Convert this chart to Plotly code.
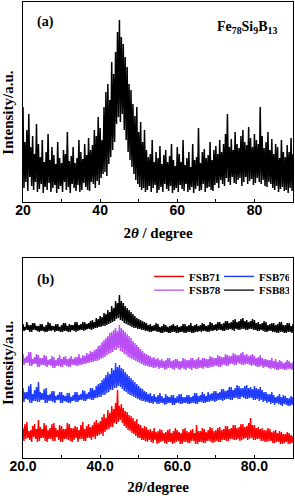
import numpy as np
import plotly.graph_objects as go

# ---------------- data ----------------
# panel (a): Fe78Si9B13, 2theta from 20 to 90 in 0.25 deg steps
two_theta_a_start, two_theta_a_step = 20.0, 0.25
intensity_a = [
    95, 14, 60, 20, 72, 11, 88, 25, 55, 16, 66, 12, 48, 20, 78, 10,
    58, 13, 45, 18, 62, 9, 40, 15, 50, 12, 68, 19, 42, 10, 55, 14,
    47, 17, 38, 9, 60, 13, 44, 16, 39, 10, 52, 20, 48, 12, 70, 15,
    41, 9, 46, 18, 55, 14, 39, 11, 44, 17, 62, 10, 50, 12, 43, 19,
    58, 15, 47, 12, 64, 11, 52, 20, 57, 18, 72, 14, 66, 21, 85, 17,
    74, 24, 62, 28, 95, 30, 110, 26, 118, 38, 102, 45, 140, 52, 128, 60,
    150, 78, 170, 85, 182, 80, 165, 88, 158, 72, 145, 62, 135, 50, 118, 42,
    112, 35, 98, 28, 86, 22, 95, 18, 70, 15, 80, 12, 60, 14, 72, 10,
    52, 12, 45, 16, 48, 10, 62, 14, 40, 17, 50, 9, 44, 12, 56, 15,
    38, 10, 47, 18, 52, 13, 40, 11, 46, 16, 58, 9, 42, 12, 36, 14,
    55, 10, 48, 17, 40, 13, 62, 11, 37, 18, 44, 10, 50, 12, 35, 15,
    58, 9, 42, 13, 45, 16, 74, 11, 39, 12, 50, 18, 53, 10, 44, 14,
    47, 15, 60, 12, 42, 11, 52, 17, 56, 19, 48, 14, 62, 22, 50, 18,
    58, 16, 68, 24, 88, 20, 55, 17, 63, 25, 52, 19, 70, 18, 58, 22,
    54, 24, 66, 16, 72, 20, 60, 25, 57, 18, 75, 21, 64, 23, 55, 17,
    68, 19, 62, 24, 58, 20, 95, 18, 66, 22, 54, 16, 60, 15, 70, 20,
    52, 18, 63, 14, 48, 12, 58, 16, 55, 10, 44, 13, 62, 15, 50, 11,
    45, 12, 57, 9, 50, 14, 64, 11, 48,
]

# panel (b): four samples, 2theta from 20 to 90 in 0.25 deg steps
two_theta_b_start, two_theta_b_step = 20.0, 0.25
series_names = ["FSB71", "FSB76", "FSB78", "FSB83"]
fsb71 = [
    30, 17, 34, 19, 36, 20, 27, 18, 28, 16, 32, 21, 34, 19, 29, 16, 38, 17, 31, 20,
    29, 20, 35, 17, 33, 16, 28, 19, 30, 19, 34, 17, 35, 17, 30, 21, 28, 18, 33, 16,
    32, 16, 29, 19, 29, 19, 35, 18, 34, 17, 30, 16, 30, 18, 32, 20, 31, 16, 28, 19,
    33, 19, 36, 17, 29, 17, 32, 20, 34, 20, 31, 18, 33, 21, 36, 19, 38, 22, 35, 23,
    37, 24, 41, 22, 44, 26, 40, 28, 48, 29, 45, 31, 52, 31, 49, 35, 55, 34, 68, 36,
    52, 38, 54, 35, 50, 32, 47, 30, 46, 28, 43, 27, 42, 25, 40, 24, 37, 22, 39, 20,
    34, 20, 33, 18, 30, 18, 32, 17, 31, 16, 28, 18, 29, 16, 27, 15, 30, 18, 26, 14,
    27, 15, 29, 16, 28, 17, 25, 15, 26, 14, 28, 16, 29, 16, 25, 14, 27, 15, 30, 16,
    28, 17, 26, 14, 25, 14, 29, 16, 30, 16, 27, 15, 26, 15, 28, 17, 29, 17, 25, 14,
    33, 14, 27, 16, 27, 16, 30, 15, 29, 15, 26, 17, 28, 17, 31, 16, 30, 15, 27, 16,
    28, 17, 30, 16, 31, 16, 28, 18, 29, 18, 32, 17, 32, 17, 29, 19, 30, 19, 33, 18,
    33, 18, 30, 19, 31, 17, 34, 18, 34, 19, 31, 20, 32, 18, 35, 19, 40, 20, 33, 18,
    33, 18, 30, 19, 31, 19, 29, 17, 30, 17, 28, 16, 28, 16, 30, 17, 29, 17, 26, 15,
    27, 15, 28, 16, 25, 16, 27, 14, 26, 14, 24, 15, 24, 16, 26, 14, 25, 14, 23, 15,
    22,
]
fsb76 = [
    70, 56, 66, 59, 66, 58, 72, 55, 74, 55, 64, 57, 68, 57, 71, 56, 76, 56, 66, 58,
    65, 58, 69, 55, 70, 55, 63, 57, 64, 57, 67, 56, 67, 55, 62, 58, 63, 58, 66, 55,
    66, 55, 63, 57, 62, 56, 65, 55, 65, 55, 61, 57, 63, 57, 66, 56, 66, 56, 63, 58,
    64, 58, 68, 57, 67, 57, 64, 59, 66, 59, 70, 58, 70, 58, 68, 60, 72, 60, 74, 61,
    75, 61, 78, 63, 80, 63, 83, 65, 86, 66, 84, 68, 90, 68, 88, 70, 95, 70, 91, 72,
    93, 71, 90, 69, 89, 67, 86, 66, 84, 64, 82, 63, 80, 62, 78, 61, 76, 60, 74, 59,
    72, 58, 70, 57, 69, 57, 67, 56, 66, 56, 64, 55, 65, 55, 62, 54, 64, 56, 61, 54,
    63, 54, 65, 55, 62, 55, 60, 53, 64, 54, 62, 55, 61, 55, 63, 53, 63, 53, 60, 55,
    62, 55, 64, 54, 64, 54, 61, 55, 61, 55, 63, 54, 63, 54, 61, 55, 62, 55, 65, 54,
    65, 54, 62, 56, 63, 56, 66, 55, 64, 55, 62, 56, 66, 56, 64, 57, 65, 57, 67, 56,
    67, 57, 65, 58, 66, 58, 69, 57, 69, 58, 67, 59, 68, 59, 71, 58, 71, 58, 68, 60,
    70, 60, 73, 59, 72, 59, 70, 61, 70, 60, 72, 59, 73, 59, 70, 60, 71, 60, 69, 58,
    72, 58, 70, 59, 69, 57, 71, 58, 68, 56, 66, 57, 66, 55, 64, 56, 64, 54, 66, 55,
    63, 53, 61, 55, 62, 54, 64, 53, 61, 52, 63, 54, 62, 53, 60, 52, 60, 52, 62, 53,
    61,
]
fsb78 = [
    104, 93, 100, 95, 102, 95, 106, 92, 106, 92, 99, 94, 101, 94, 104, 91, 103, 91, 100, 93,
    100, 93, 103, 92, 102, 91, 98, 93, 99, 92, 102, 90, 101, 90, 98, 92, 100, 92, 103, 91,
    99, 91, 101, 93, 102, 92, 99, 91, 100, 91, 102, 93, 99, 93, 101, 92, 101, 92, 104, 93,
    100, 93, 103, 94, 102, 94, 105, 95, 104, 95, 107, 96, 106, 96, 108, 97, 109, 97, 112, 98,
    113, 99, 116, 100, 118, 101, 120, 103, 122, 104, 125, 105, 126, 106, 128, 108, 130, 108, 127, 110,
    133, 107, 130, 106, 128, 104, 126, 103, 124, 101, 122, 100, 120, 99, 117, 98, 115, 97, 113, 96,
    111, 95, 109, 94, 107, 93, 105, 92, 104, 92, 103, 91, 102, 91, 100, 90, 101, 90, 99, 91,
    100, 89, 98, 90, 99, 90, 97, 88, 98, 89, 100, 90, 100, 90, 97, 89, 98, 88, 99, 90,
    99, 89, 97, 88, 97, 90, 100, 89, 99, 88, 98, 90, 98, 89, 100, 88, 100, 90, 98, 89,
    99, 89, 101, 90, 98, 90, 100, 89, 100, 91, 99, 90, 99, 90, 102, 91, 101, 91, 100, 92,
    100, 92, 103, 91, 102, 91, 101, 93, 101, 93, 104, 92, 103, 92, 102, 94, 102, 94, 105, 93,
    104, 93, 103, 95, 103, 94, 105, 93, 106, 93, 103, 94, 104, 94, 102, 93, 103, 92, 104, 93,
    102, 92, 100, 91, 101, 91, 103, 92, 100, 90, 99, 91, 99, 91, 98, 90, 98, 89, 100, 90,
    97, 89, 99, 88, 96, 88, 98, 89, 97, 89, 95, 88, 96, 88, 98, 89, 97, 89, 95, 88,
    96,
]
fsb83 = [
    134, 127, 131, 128, 136, 128, 133, 126, 133, 126, 135, 128, 135, 128, 132, 127, 132, 126, 134, 127,
    134, 127, 131, 126, 133, 126, 136, 127, 135, 127, 132, 128, 132, 126, 134, 127, 134, 127, 131, 126,
    133, 126, 135, 127, 135, 127, 132, 126, 134, 126, 133, 128, 133, 127, 136, 126, 136, 127, 133, 128,
    134, 128, 136, 127, 136, 128, 134, 129, 135, 129, 137, 128, 138, 129, 136, 130, 140, 130, 139, 131,
    142, 131, 141, 132, 145, 132, 144, 133, 148, 134, 146, 135, 152, 136, 150, 137, 157, 139, 155, 140,
    163, 138, 157, 137, 155, 135, 152, 134, 150, 133, 148, 132, 146, 131, 144, 130, 142, 130, 140, 129,
    139, 129, 138, 128, 137, 128, 136, 127, 135, 127, 133, 126, 134, 126, 132, 127, 133, 127, 135, 126,
    134, 126, 131, 125, 132, 125, 134, 126, 133, 126, 131, 125, 132, 125, 133, 126, 134, 126, 132, 125,
    133, 125, 131, 126, 132, 126, 134, 125, 134, 125, 132, 126, 133, 126, 135, 125, 132, 125, 133, 126,
    134, 126, 132, 127, 133, 126, 135, 127, 134, 127, 132, 126, 133, 126, 136, 127, 135, 127, 133, 128,
    134, 127, 136, 128, 136, 128, 134, 127, 135, 127, 137, 128, 137, 128, 135, 129, 136, 128, 138, 127,
    139, 129, 136, 128, 137, 128, 139, 129, 140, 129, 137, 128, 138, 128, 136, 129, 137, 129, 139, 128,
    138, 128, 135, 127, 136, 127, 134, 128, 135, 127, 137, 126, 136, 126, 133, 127, 134, 127, 135, 126,
    135, 126, 133, 125, 134, 125, 136, 126, 136, 126, 133, 125, 133, 125, 135, 126, 135, 126, 132, 125,
    134,
]
series_values = [fsb71, fsb76, fsb78, fsb83]
series_colors = ["#ff0000", "#1f3cff", "#b94ef5", "#000000"]

x_tick_vals = [20, 40, 60, 80]

# ---------------- figure ----------------
SERIF = "Times New Roman, Liberation Serif, serif"
SANS = "Arial, Liberation Sans, sans-serif"

fig = go.Figure()

xa = two_theta_a_start + two_theta_a_step * np.arange(len(intensity_a))
fig.add_trace(go.Scatter(x=xa, y=intensity_a, mode="lines",
                         line=dict(color="black", width=1.5),
                         showlegend=False, xaxis="x", yaxis="y"))

for i, (name, vals, col) in enumerate(zip(series_names, series_values, series_colors)):
    xb = two_theta_b_start + two_theta_b_step * np.arange(len(vals))
    fig.add_trace(go.Scatter(x=xb, y=vals, mode="lines", name=name,
                             line=dict(color=col, width=1.4),
                             xaxis="x2", yaxis="y2",
                             legend="legend" if i < 2 else "legend2"))

axis_common = dict(
    showline=True, linecolor="black", linewidth=1.3, mirror=True,
    showgrid=False, zeroline=False,
)
xcommon = dict(
    axis_common, range=[20, 90], tickvals=x_tick_vals, ticks="inside",
    ticklen=3, tickwidth=1, tickcolor="black", ticklabelstandoff=-5,
    minor=dict(dtick=10, tick0=0, ticks="inside", ticklen=3, tickcolor="black"),
    tickfont=dict(family=SANS, size=14, color="black", weight="bold"),
    title_font=dict(family=SERIF, size=15, color="black", weight="bold"),
)
ycommon = dict(axis_common, range=[0, 200], showticklabels=False, ticks="")

legend_font = dict(family=SERIF, size=11, color="black", weight="bold")
legend_common = dict(orientation="h", x=0.467, xanchor="left", yanchor="top",
                     entrywidth=25, entrywidthmode="pixels",
                     bgcolor="rgba(0,0,0,0)", font=legend_font,
                     itemwidth=30, tracegroupgap=0)

fig.update_layout(
    width=295, height=499,
    margin=dict(l=23, r=2, t=2, b=41),
    paper_bgcolor="white", plot_bgcolor="white",
    xaxis=dict(xcommon, domain=[0, 1], anchor="y", tickformat="d",
               title=dict(text="2<i>θ</i> / degree", standoff=10)),
    yaxis=dict(ycommon, domain=[0.5614, 1.0], anchor="x"),
    xaxis2=dict(xcommon, domain=[0, 1], anchor="y2", tickformat=".1f",
                title=dict(text="2<i>θ</i>/degree", standoff=8)),
    yaxis2=dict(ycommon, domain=[0.0, 0.4386], anchor="x2"),
    legend=dict(legend_common, y=0.430),
    legend2=dict(legend_common, y=0.400),
    annotations=[
        dict(text="(a)", x=0.044, y=0.956, xref="paper", yref="paper",
             xanchor="left", yanchor="middle", showarrow=False,
             font=dict(family=SERIF, size=14, color="black", weight="bold")),
        dict(text="(b)", x=0.044, y=0.390, xref="paper", yref="paper",
             xanchor="left", yanchor="middle", showarrow=False,
             font=dict(family=SERIF, size=14, color="black", weight="bold")),
        dict(text="Fe<sub>78</sub>Si<sub>9</sub>B<sub>13</sub>", x=0.711, y=0.943,
             xref="paper", yref="paper", xanchor="left", yanchor="middle",
             showarrow=False,
             font=dict(family=SERIF, size=14, color="black", weight="bold")),
        dict(text="Intensity/a.u.", x=-0.056, y=0.757, xref="paper", yref="paper",
             xanchor="center", yanchor="middle", textangle=-90, showarrow=False,
             font=dict(family=SERIF, size=15, color="black", weight="bold")),
        dict(text="Intensity/a.u.", x=-0.056, y=0.2083, xref="paper", yref="paper",
             xanchor="center", yanchor="middle", textangle=-90, showarrow=False,
             font=dict(family=SERIF, size=15, color="black", weight="bold")),
    ],
)

fig.write_html("out.html", config={"displayModeBar": False},
               post_script="document.body.style.margin='0';document.body.style.overflow='hidden';")
